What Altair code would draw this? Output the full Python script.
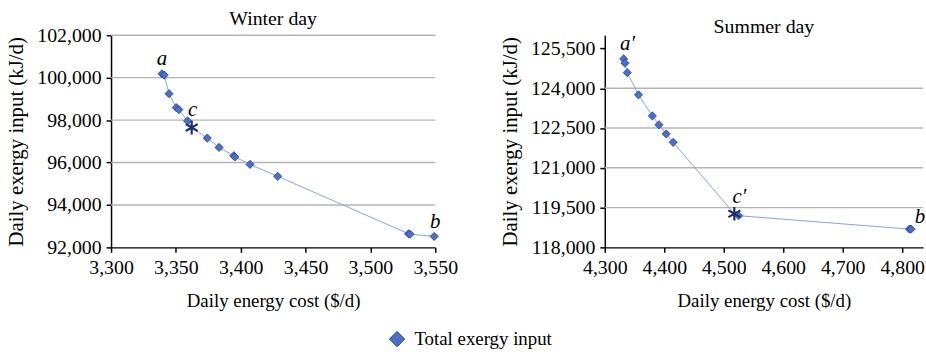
import altair as alt
import pandas as pd

FONT = "Liberation Serif"

# ---- data ----
winter_cost = [3339.3, 3341.0, 3344.7, 3350.3, 3352.3, 3359.0, 3374.2, 3383.3,
               3394.7, 3395.5, 3407.2, 3428.5, 3529.4, 3530.6, 3549.2]
winter_exergy = [100183, 100120, 99245, 98587, 98493, 97962, 97150, 96710,
                 96320, 96260, 95911, 95348, 92643, 92620, 92516]
winter_star = (3362.2, 97648)

summer_cost = [4331.7, 4333.9, 4337.8, 4356.7, 4380.0, 4391.1, 4403.3, 4415.0,
               4525.0, 4812.2, 4815.0]
summer_exergy = [125106, 124947, 124589, 123752, 122956, 122624, 122277, 121960,
                 119195, 118690, 118690]
summer_star = (4517.8, 119268)

winter_xticks = [3300, 3350, 3400, 3450, 3500, 3550]
winter_yticks = [92000, 94000, 96000, 98000, 100000, 102000]
winter_grid = [94000, 96000, 98000, 100000, 102000]
summer_xticks = [4300, 4400, 4500, 4600, 4700, 4800]
summer_yticks = [118000, 119500, 121000, 122500, 124000, 125500]
summer_grid = [119500, 121000, 122500, 124000]

SERIES = "Total exergy input"
ASTERISK = "M0,-1L0,1M-0.87,-0.5L0.87,0.5M-0.87,0.5L0.87,-0.5"

FILL = "#4C6FC9"
EDGE = "#26408F"
LINE = "#86A2E0"
STAR = "#1C2C6E"
GRID = "#B4B4B4"


def panel(title, cost, exergy, star, xdom, ydom, xticks, yticks, grid, labels, width, height):
    pts = pd.DataFrame({"cost": cost, "exergy": exergy, "series": SERIES})
    line_df = pd.concat([pts[["cost", "exergy"]],
                         pd.DataFrame({"cost": [star[0]], "exergy": [star[1]]})]).sort_values("cost")
    star_df = pd.DataFrame({"cost": [star[0]], "exergy": [star[1]]})
    grid_df = pd.DataFrame({"exergy": grid})

    xs = alt.Scale(domain=xdom, nice=False, zero=False)
    ys = alt.Scale(domain=ydom, nice=False, zero=False)
    xax = alt.Axis(values=xticks, format=",d", title="Daily energy cost ($/d)", grid=False,
                   titlePadding=15, labelFlush=False, labelOverlap=False,
                   titleFontSize=19)
    yax = alt.Axis(values=yticks, format=",d", title="Daily exergy input (kJ/d)", grid=False,
                   titlePadding=10, labelOverlap=False, titleFontSize=21)

    x = alt.X("cost:Q", scale=xs, axis=xax)
    y = alt.Y("exergy:Q", scale=ys, axis=yax)

    gridl = alt.Chart(grid_df).mark_rule(color=GRID, strokeWidth=1.4).encode(y=y)
    line = alt.Chart(line_df).mark_line(color=LINE, strokeWidth=1).encode(
        x=x, y=y, order="cost:Q"
    )
    points = alt.Chart(pts).mark_point(filled=True, size=68, stroke=EDGE, strokeWidth=0.8,
                                       opacity=1).encode(
        x=x, y=y,
        color=alt.Color("series:N", scale=alt.Scale(range=[FILL]), title=None),
        shape=alt.Shape("series:N", scale=alt.Scale(range=["diamond"]), title=None),
    )
    starm = alt.Chart(star_df).mark_point(shape=ASTERISK, size=190, filled=False,
                                         stroke=STAR, strokeWidth=2.2, opacity=1).encode(x=x, y=y)
    layers = [gridl, line, points, starm]
    for (txt, lx, ly, dx, dy) in labels:
        ldf = pd.DataFrame({"cost": [lx], "exergy": [ly], "t": [txt]})
        layers.append(alt.Chart(ldf).mark_text(font=FONT, fontSize=21, fontStyle="italic",
                                               dx=dx, dy=dy, color="black").encode(
            x=x, y=y, text="t:N"))
    return alt.layer(*layers).properties(
        width=width, height=height,
        title=alt.TitleParams(title, font=FONT, fontSize=20, fontWeight="normal",
                              anchor="middle", offset=-4, color="black"),
    )


winter = panel("Winter day", winter_cost, winter_exergy, winter_star,
               [3300, 3550], [92000, 102000], winter_xticks, winter_yticks, winter_grid,
               [("a", winter_cost[0], winter_exergy[0], 0, -15),
                ("c", winter_star[0], winter_star[1], 1, -18),
                ("b", winter_cost[-1], winter_exergy[-1], 1, -14)],
               327, 214)
summer = panel("Summer day", summer_cost, summer_exergy, summer_star,
               [4300, 4835], [118000, 126000], summer_xticks, summer_yticks, summer_grid,
               [("a\u2032", summer_cost[0], summer_exergy[0], 4, -15),
                ("c\u2032", summer_star[0], summer_star[1], 5, -17),
                ("b", summer_cost[-1], summer_exergy[-1], 9, -12)],
               321, 214)

chart = alt.hconcat(winter, summer, spacing=42).resolve_scale(
    x="independent", y="independent", color="shared", shape="shared"
).properties(
    padding={"left": 6, "top": 8, "right": 0, "bottom": 0}
).configure_view(stroke=None).configure_axis(
    labelFont=FONT, titleFont=FONT, labelFontSize=20,
    titleFontWeight="normal", labelColor="black", titleColor="black",
    domainColor="black", domainWidth=1.5, tickColor="black", tickWidth=1.5, tickSize=5,
    labelPadding=5,
).configure_legend(
    orient="none", legendX=279, legendY=297, direction="horizontal",
    labelFont=FONT, labelFontSize=19, labelColor="black", symbolSize=240,
    symbolStrokeColor=EDGE, symbolStrokeWidth=1, symbolType="diamond", labelOffset=8,
).configure_concat(spacing=42)

chart.save("out.html", embed_options={"renderer": "svg", "actions": False})
